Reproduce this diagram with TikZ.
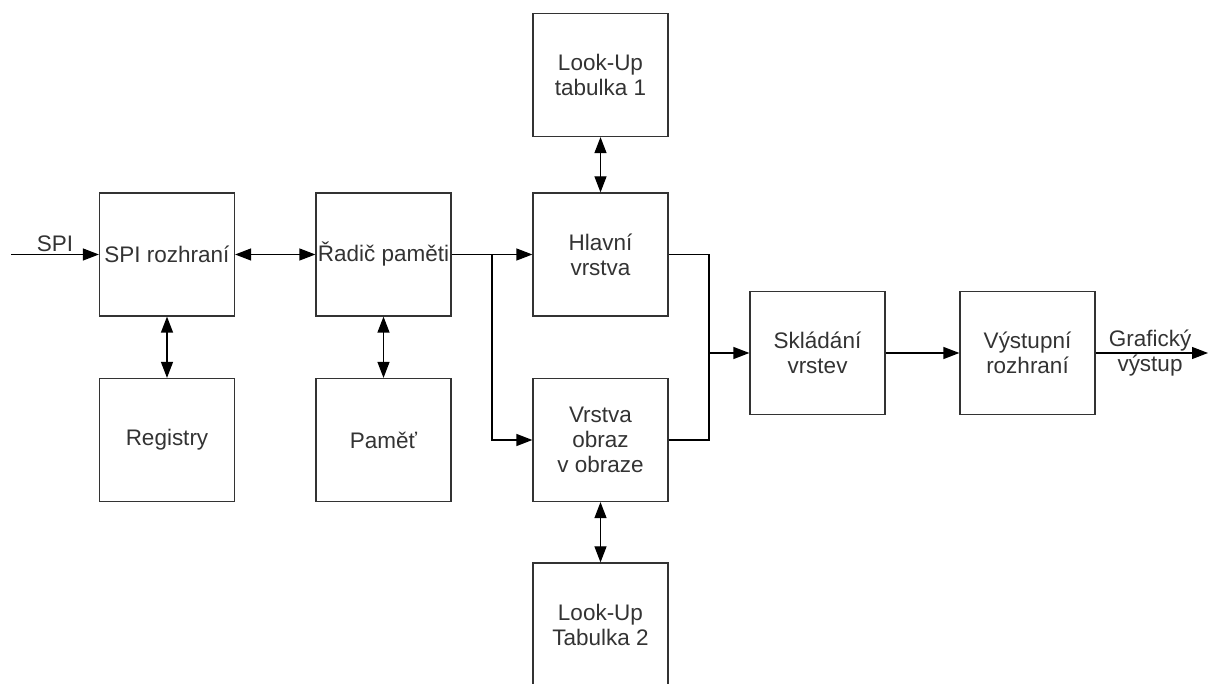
\documentclass[tikz,border=0pt]{standalone}
\usepackage{fontspec}
\setmainfont{Liberation Sans}
\usetikzlibrary{arrows.meta,positioning}
\definecolor{ink}{HTML}{333333}

\begin{document}
\begin{tikzpicture}[x=1cm,y=1cm,>={Triangle[length=.32cm,width=.24cm]},
  blok/.style={draw=ink,line width=.7pt,minimum width=2.7cm,minimum height=2.46cm,
    align=center,inner sep=0pt,text=ink,font=\fontsize{12.8}{14.2}\selectfont},
  spoj/.style={line width=.7pt},
  popis/.style={text=ink,align=center,font=\fontsize{12.8}{14.2}\selectfont}]
\clip (0,0) rectangle (24.18,13.68);
% bloky
\node[blok] (spi) at (3.34,8.59) {SPI rozhraní};
\node[blok] (radic) at (7.67,8.59) {Řadič paměti};
\node[blok] (reg) at (3.34,4.88) {Registry};
\node[blok] (pamet) at (7.67,4.88) {Paměť};
\node[blok] (lut1) at (12.01,12.18) {Look-Up\\tabulka 1};
\node[blok] (hlavni) at (12.01,8.59) {Hlavní\\vrstva};
\node[blok] (pip) at (12.01,4.88) {Vrstva\\obraz\\v obraze};
\node[blok] (lut2) at (12.01,1.19) {Look-Up\\Tabulka 2};
\node[blok] (sklad) at (16.35,6.62) {Skládání\\vrstev};
\node[blok] (vystup) at (20.55,6.62) {Výstupní\\rozhraní};
% body spoju
\coordinate (vstup) at (0.22,8.59);
\coordinate (rozv) at (9.84,8.59);
\coordinate (sloz) at (14.18,6.62);
\coordinate (konec) at (24.16,6.62);
% spoje
\draw[spoj,->] (vstup) -- (spi.west) node[midway,above,popis,inner sep=1pt]{SPI};
\draw[spoj,<->] (spi) -- (radic);
\foreach \a/\b in {spi/reg,radic/pamet,lut1/hlavni,pip/lut2}{\draw[spoj,<->] (\a) -- (\b);}
\draw[spoj] (radic.east) -- (rozv);
\draw[spoj,->] (rozv) -- (hlavni);
\draw[spoj,->] (rozv) |- (pip.west);
\draw[spoj] (hlavni.east) -| (sloz);
\draw[spoj] (pip.east) -| (sloz);
\draw[spoj,->] (sloz) -- (sklad);
\draw[spoj,->] (sklad) -- (vystup);
\draw[spoj,->] (vystup) -- (konec);
\node[popis] (graf) at (23.0,6.62) {Grafický\\výstup};
\end{tikzpicture}
\end{document}
